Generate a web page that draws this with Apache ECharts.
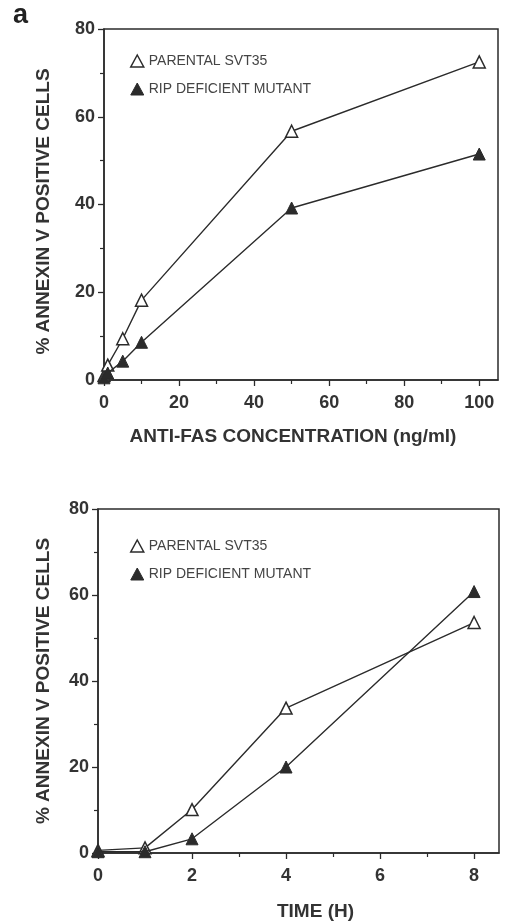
<!DOCTYPE html>
<html><head><meta charset="utf-8">
<script src="https://cdn.jsdelivr.net/npm/echarts@6/dist/echarts.min.js"></script>
<style>html,body{margin:0;padding:0;background:#fff}#c{width:510px;height:924px}</style>
</head><body><div id="c"></div>
<script>
// Panel 1: anti-Fas concentration
const concX = [0, 1, 5, 10, 50, 100];
const concParental = [1, 3.4, 9.4, 18.2, 56.7, 72.5];
const concMutant = [0.5, 1.6, 4.3, 8.6, 39.2, 51.5];
const concMajorTicks = [0, 20, 40, 60, 80, 100];
const concMinorTicks = [10, 30, 50, 70, 90];
// Panel 2: time course
const timeX = [0, 1, 2, 4, 8];
const timeParental = [0.6, 1.2, 10.1, 33.7, 53.6];
const timeMutant = [0.3, 0.3, 3.3, 20, 60.8];
const timeMajorTicks = [0, 2, 4, 6, 8];
const timeMinorTicks = [1, 3, 5, 7];

const names = ['PARENTAL SVT35', 'RIP DEFICIENT MUTANT'];
const ink = '#2b2b2b';
const txt = '#333';
const font = 'Liberation Sans, Arial, sans-serif';

const pairs = (xs, ys) => xs.map((x, i) => [x, ys[i]]);

function majorX(gi, max, ticks, name, gap, pad) {
  return {
    gridIndex: gi, type: 'value', min: 0, max: max, position: 'bottom',
    name: name, nameLocation: 'middle', nameGap: gap,
    nameTextStyle: { fontFamily: font, fontWeight: 'bold', fontSize: 19, color: txt, padding: pad },
    axisLine: { show: true, lineStyle: { color: ink, width: 1.5 } },
    axisTick: { show: true, inside: false, length: 6, customValues: ticks, lineStyle: { color: ink, width: 1.3 } },
    axisLabel: { customValues: ticks, margin: 14, fontFamily: font, fontWeight: 'bold', fontSize: 18, color: txt },
    splitLine: { show: false }
  };
}
function minorX(gi, max, ticks) {
  return {
    gridIndex: gi, type: 'value', min: 0, max: max, position: 'bottom',
    axisLine: { show: false },
    axisTick: { show: true, length: 4, customValues: ticks, lineStyle: { color: ink, width: 1.2 } },
    axisLabel: { show: false }, splitLine: { show: false }
  };
}
function yAx(gi, gap, pad) {
  return {
    gridIndex: gi, type: 'value', min: 0, max: 80, interval: 20,
    name: '% ANNEXIN V POSITIVE CELLS', nameLocation: 'middle', nameGap: gap, nameRotate: 90,
    nameTextStyle: { fontFamily: font, fontWeight: 'bold', fontSize: 19, color: txt, padding: pad },
    axisLine: { show: true, lineStyle: { color: ink, width: 1.5 } },
    axisTick: { show: true, length: 6, lineStyle: { color: ink, width: 1.3 } },
    minorTick: { show: true, splitNumber: 2, length: 4, lineStyle: { color: ink, width: 1.2 } },
    axisLabel: { margin: 9, fontFamily: font, fontWeight: 'bold', fontSize: 18, color: txt },
    splitLine: { show: false }
  };
}
function ser(name, xi, yi, data, open) {
  return {
    name: name, type: 'line', xAxisIndex: xi, yAxisIndex: yi, data: data,
    symbol: 'triangle', symbolSize: 12, showAllSymbol: true,
    lineStyle: { color: ink, width: 1.4 },
    itemStyle: open ? { color: '#fff', borderColor: ink, borderWidth: 1.5 } : { color: ink, borderColor: ink, borderWidth: 1 },
    z: open ? 2 : 3, animation: false
  };
}
function legend(top) {
  return {
    orient: 'vertical', left: 125, top: top, itemWidth: 13, itemHeight: 12, itemGap: 14,
    textStyle: { fontFamily: font, fontSize: 14, color: '#444' },
    selectedMode: false,
    data: [
      { name: names[0], icon: 'triangle', itemStyle: { color: '#fff', borderColor: ink, borderWidth: 1.5 } },
      { name: names[1], icon: 'triangle', itemStyle: { color: ink, borderColor: ink, borderWidth: 1 } }
    ]
  };
}

const chart = echarts.init(document.getElementById('c'));
chart.setOption({
  backgroundColor: '#fff',
  animation: false,
  graphic: [{ type: 'text', left: 13, top: 2, style: { text: 'a', fontFamily: font, fontWeight: 'bold', fontSize: 27, fill: '#222' } }],
  grid: [
    { left: 104, top: 29, right: 12, bottom: 544, show: true, borderColor: ink, borderWidth: 1.5, backgroundColor: 'transparent' },
    { left: 98, top: 509, right: 11, bottom: 71, show: true, borderColor: ink, borderWidth: 1.5, backgroundColor: 'transparent' }
  ],
  xAxis: [
    majorX(0, 105, concMajorTicks, 'ANTI-FAS CONCENTRATION (ng/ml)', 47, [0, 16, 0, 0]),
    minorX(0, 105, concMinorTicks),
    majorX(1, 8.53, timeMajorTicks, 'TIME (H)', 49, [0, 0, 0, 34]),
    minorX(1, 8.53, timeMinorTicks)
  ],
  yAxis: [yAx(0, 51, [0, 14, 0, 0]), yAx(1, 45, [0, 0, 0, 0])],
  legend: [legend(49), legend(534)],
  series: [
    ser(names[0], 0, 0, pairs(concX, concParental), true),
    ser(names[1], 0, 0, pairs(concX, concMutant), false),
    ser(names[0], 2, 1, pairs(timeX, timeParental), true),
    ser(names[1], 2, 1, pairs(timeX, timeMutant), false)
  ]
});
</script></body></html>
